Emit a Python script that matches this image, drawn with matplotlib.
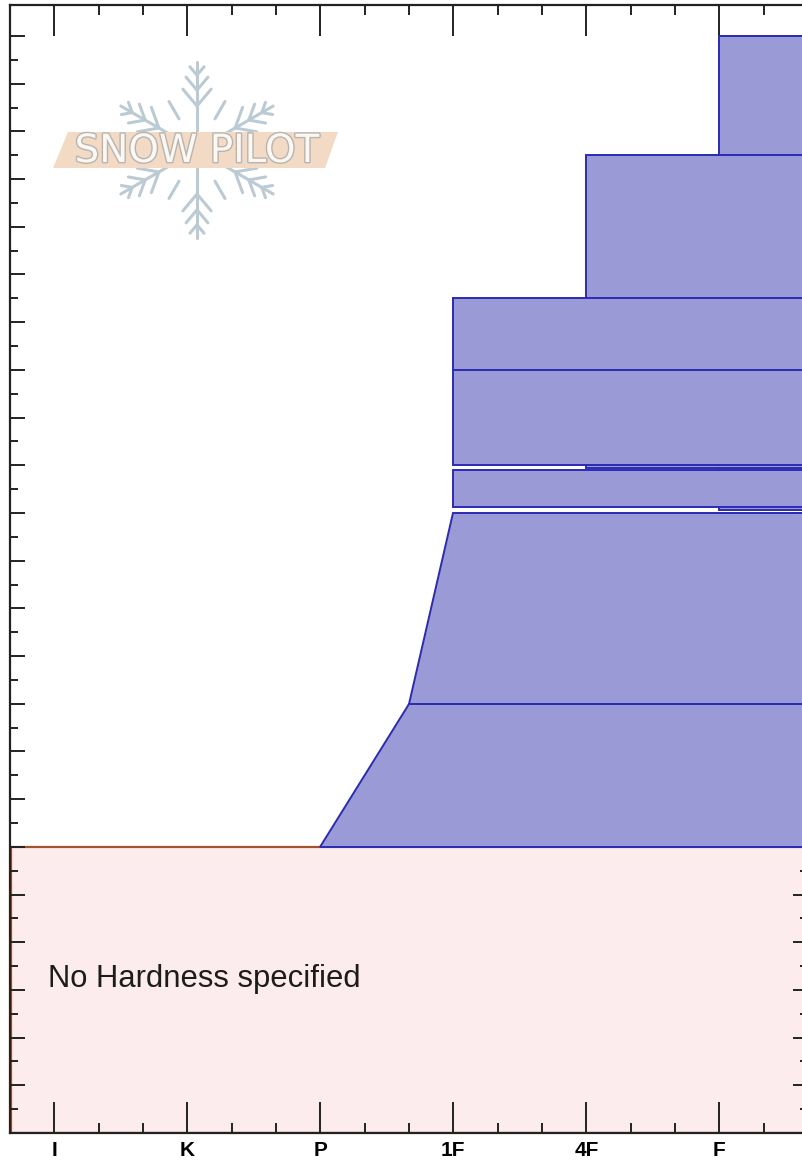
#!/usr/bin/env python3
"""Hardness profile of a snow pit (SnowPilot style)."""

import numpy as np
import matplotlib
matplotlib.use("Agg")
import matplotlib.pyplot as plt
import matplotlib.patheffects as pe
from matplotlib.patches import Polygon, Rectangle
from matplotlib.ticker import FixedLocator

# hardness scale, I (hardest) on the left ... F (softest) on the right
hardness_labels = ["I", "K", "P", "1F", "4F", "F"]
hardness_pos = [0, 1, 2, 3, 4, 5]

# layers in drawing order: height [cm] and hardness index at top / bottom
layer_top = [230.0, 205.0, 175.0, 160.0, 139.0, 130.0, 90.0]
layer_bottom = [130.6, 139.5, 160.0, 140.0, 131.2, 90.0, 60.0]
hard_top = [5.0, 4.0, 3.0, 3.0, 3.0, 3.0, 2.67]
hard_bottom = [5.0, 4.0, 3.0, 3.0, 3.0, 2.67, 2.0]

# part of the pit without hardness information
no_hardness_top = 60.0
no_hardness_text = "No Hardness specified"

X_MIN, X_MAX = -1 / 3, 5 + 2 / 3
Y_MIN, Y_MAX = 0.0, 236.5

W, H = 803, 1162


def fpx(x, y):
    """Pixel position (from top-left) to figure fraction."""
    return x / W, 1 - y / H


def draw_logo(fig):
    cx, cy = 197, 150
    flake = "#bccbd3"
    lines = []
    for ang in [90, 30, -30, -90, -150, 150]:
        a = np.deg2rad(ang)
        ux, uy = np.cos(a), -np.sin(a)
        length = 88
        lines.append(((cx, cy), (cx + ux * length, cy + uy * length)))
        for frac, blen in [(0.5, 22), (0.68, 17), (0.85, 11)]:
            bx, by = cx + ux * length * frac, cy + uy * length * frac
            for side in (40, -40):
                b = a + np.deg2rad(side)
                lines.append(((bx, by), (bx + np.cos(b) * blen, by - np.sin(b) * blen)))
    for ang in [60, 120, 240, 300]:
        a = np.deg2rad(ang)
        ux, uy = np.cos(a), -np.sin(a)
        lines.append(((cx + ux * 36, cy + uy * 36), (cx + ux * 56, cy + uy * 56)))

    for (x0, y0), (x1, y1) in lines:
        p0, p1 = fpx(x0, y0), fpx(x1, y1)
        fig.add_artist(plt.Line2D([p0[0], p1[0]], [p0[1], p1[1]],
                                  transform=fig.transFigure, color=flake,
                                  lw=2.2, solid_capstyle="round", zorder=5))

    banner = Polygon([fpx(68, 132), fpx(338, 132), fpx(325, 168), fpx(53, 168)],
                     closed=True, transform=fig.transFigure,
                     facecolor="#f2dac4", edgecolor="none", zorder=6)
    fig.add_artist(banner)
    tx, ty = fpx(197, 151)
    fig.text(tx, ty, "SNOW PILOT", ha="center", va="center", fontsize=28,
             family="DejaVu Sans", color="#fbf7f3", zorder=7,
             path_effects=[pe.withStroke(linewidth=2.0, foreground="#b8b4b0")])


def main():
    plt.rcParams["font.family"] = ["Liberation Sans", "DejaVu Sans"]

    fig = plt.figure(figsize=(W / 100, H / 100), dpi=100)
    ax = fig.add_axes([10 / W, 29 / H, 798 / W, 1128 / H])

    ax.set_xlim(X_MIN, X_MAX)
    ax.set_ylim(Y_MIN, Y_MAX)

    # region without hardness
    ax.add_patch(Rectangle((X_MIN + 0.01, Y_MIN), X_MAX - X_MIN, no_hardness_top,
                           facecolor="#fdeced", edgecolor="#a4532f",
                           lw=1.6, zorder=1))
    tx, ty = fpx(48, 987)
    fig.text(tx, ty, no_hardness_text, ha="left", va="baseline",
             fontsize=22.3, color="#1c1c1c", zorder=8)

    # hardness layers
    for top, bot, h_top, h_bot in zip(layer_top, layer_bottom, hard_top, hard_bottom):
        poly = Polygon([(h_top, top), (X_MAX, top), (X_MAX, bot), (h_bot, bot)],
                       closed=True, facecolor="#9a9ad6", edgecolor="#2b2bb4",
                       lw=1.4, zorder=2)
        ax.add_patch(poly)

    # axes / ticks
    for side in ax.spines.values():
        side.set_linewidth(1.6)
        side.set_color("#222222")
        side.set_zorder(10)

    ax.xaxis.set_major_locator(FixedLocator(hardness_pos))
    ax.xaxis.set_minor_locator(FixedLocator(
        [p + d for p in hardness_pos for d in (1 / 3, 2 / 3)]))
    ax.set_xticklabels(hardness_labels, fontsize=15, fontweight="bold")
    ax.yaxis.set_major_locator(FixedLocator(np.arange(0, 231, 10)))
    ax.yaxis.set_minor_locator(FixedLocator(np.arange(5, 231, 10)))
    ax.set_yticklabels([])

    ax.tick_params(axis="x", which="major", direction="in", length=22,
                   width=1.4, top=True, bottom=True, pad=6, color="#222222")
    ax.tick_params(axis="x", which="minor", direction="in", length=7,
                   width=1.4, top=True, bottom=True, color="#222222")
    ax.tick_params(axis="y", which="major", direction="in", length=11,
                   width=1.4, left=True, right=True, color="#222222")
    ax.tick_params(axis="y", which="minor", direction="in", length=6,
                   width=1.4, left=True, right=True, color="#222222")
    for t in ax.get_xticklines() + ax.get_yticklines():
        t.set_zorder(10)

    draw_logo(fig)

    fig.savefig("out.png", dpi=100)


if __name__ == "__main__":
    main()
